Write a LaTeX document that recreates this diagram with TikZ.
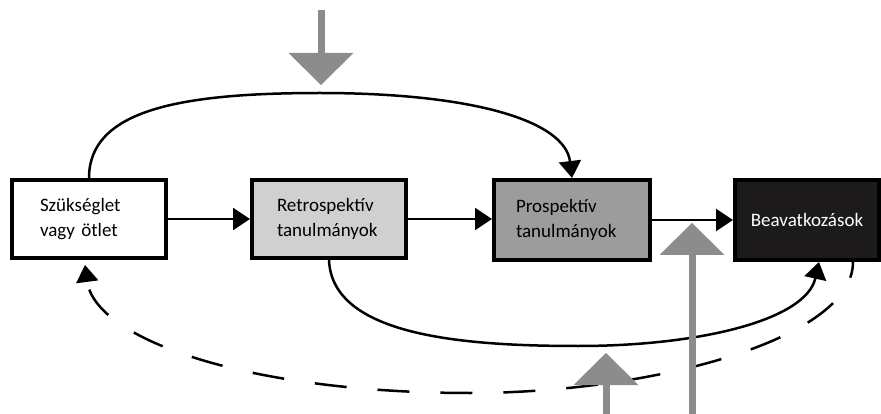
\documentclass[tikz,border=0pt]{standalone}
\usepackage{fontspec}
\setmainfont{Carlito}
\usetikzlibrary{arrows.meta}
\definecolor{boxlight}{HTML}{D0D0D0}
\definecolor{boxmid}{HTML}{9C9C9C}
\definecolor{boxdark}{HTML}{1C1A1A}
\definecolor{arrowgray}{HTML}{8C8C8C}
\hyphenpenalty=10000
\exhyphenpenalty=10000
\begin{document}
\begin{tikzpicture}[x=1pt,y=-1pt,
  box/.style={draw=black, line width=4pt, minimum height=78pt, align=left,
    font=\fontsize{19}{25}\selectfont, anchor=center},
  conn/.style={draw=black, line width=2.5pt, -{Triangle[length=17pt,width=22pt]}},
  feedback/.style={conn, dash pattern=on 32pt off 31pt, dash phase=16pt},
  input/.style={draw=arrowgray, line width=7pt, -{Triangle[length=32pt,width=65pt,line width=0pt]}},
]
\useasboundingbox (0,0) rectangle (881,414);

% boxes
\node[box, fill=white, minimum width=154pt, text width=98pt, inner xsep=28pt] (need) at (89,219) {Szükséglet\\vagy ötlet};
\node[box, fill=boxlight, minimum width=154pt, text width=104pt, inner xsep=25pt] (retro) at (329,219) {Retrospektív\\tanulmányok};
\node[box, fill=boxmid, minimum width=156pt, minimum height=80pt, text width=112pt, inner xsep=22pt] (pros) at (572,220) {Prospektív\\tanulmányok};
\node[box, fill=boxdark, text=white, align=center, minimum width=144pt, minimum height=80pt] (interv) at (807,220) {Beavatkozások};

% straight connectors
\draw[conn] (need.east) -- (retro.west);
\draw[conn] (retro.east) -- (retro.east -| pros.west);
\draw[conn] (pros.east) -- (pros.east -| interv.west);

% top arc
\draw[conn] (need.north) .. controls (89,110) and (180,93) .. (320,93)
  .. controls (470,93) and (565,120) .. (pros.north);

% bottom solid arc
\draw[conn] (retro.south) .. controls (332,335) and (460,346) .. (578,346)
  .. controls (700,346) and (806,320) .. ([xshift=12pt]interv.south);

% dashed feedback arc
\draw[feedback] ([xshift=46pt]interv.south) .. controls (853,340) and (650,393) .. (470,393)
  .. controls (250,393) and (95,340) .. ([xshift=-4pt,yshift=-5pt]need.south);

% gray input arrows
\coordinate (topin) at (321,10);
\coordinate (topend) at (321,85);
\coordinate (in1) at (606,414);
\coordinate (in1end) at (606,353);
\coordinate (in2) at (692,414);
\coordinate (in2end) at (692,223);
\draw[input] (topin) -- (topend);
\draw[input] (in1) -- (in1end);
\draw[input] (in2) -- (in2end);
\end{tikzpicture}
\end{document}
